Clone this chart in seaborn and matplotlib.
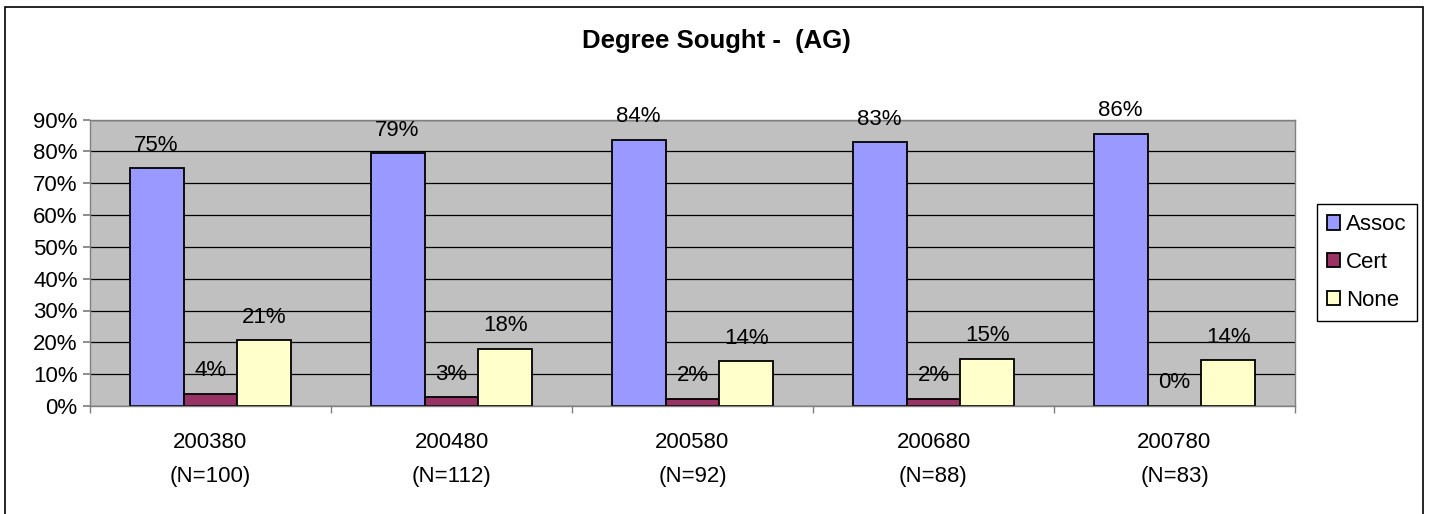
import matplotlib
matplotlib.use("Agg")
import matplotlib.pyplot as plt
import numpy as np
import pandas as pd
import seaborn as sns
from matplotlib.patches import Rectangle
from matplotlib.ticker import PercentFormatter

sns.set_theme(style="ticks")
plt.rcParams.update({
    "font.size": 16, "axes.facecolor": "#C0C0C0", "figure.facecolor": "white",
    "axes.edgecolor": "#808080", "axes.linewidth": 1.0,
    "text.color": "black", "xtick.labelcolor": "black", "ytick.labelcolor": "black",
})
plt.rcParams["font.family"] = ["Liberation Sans", "DejaVu Sans"]

# podaci procitani s grafa (postoci)
SEMESTRI = ["200380", "200480", "200580", "200680", "200780"]
BROJ_N = [100, 112, 92, 88, 83]
STUPNJEVI = ["Assoc", "Cert", "None"]
ASSOC = [74.7, 79.4, 83.7, 82.9, 85.6]
CERT = [3.8, 2.7, 2.2, 2.3, 0.0]
NONE = [20.7, 18.0, 14.1, 14.8, 14.4]
BOJE = {"Assoc": "#9999FF", "Cert": "#993366", "None": "#FFFFCC"}


def pripremi():
    oznake = [f"{s}\n(N={n})" for s, n in zip(SEMESTRI, BROJ_N)]
    redovi = []
    for stupanj, vrijednosti in zip(STUPNJEVI, [ASSOC, CERT, NONE]):
        for o, v in zip(oznake, vrijednosti):
            redovi.append({"semestar": o, "stupanj": stupanj, "postotak": v})
    return pd.DataFrame(redovi), oznake


def main():
    df, oznake = pripremi()
    W, H = 1429, 514
    fig = plt.figure(figsize=(W / 100, H / 100), dpi=100)
    ax = fig.add_axes([90 / W, 1 - 406 / H, (1295 - 90) / W, (406 - 119.5) / H])

    sns.barplot(data=df, x="semestar", y="postotak", hue="stupanj", order=oznake,
                hue_order=STUPNJEVI, palette=BOJE, width=0.672, errorbar=None,
                edgecolor="black", linewidth=1.3, saturation=1, ax=ax)

    for cont, vrijednosti in zip(ax.containers, [ASSOC, CERT, NONE]):
        ax.bar_label(cont, labels=[f"{v:.0f}%" for v in vrijednosti], padding=9, fontsize=16)

    ax.set_ylim(0, 90)
    ax.set_yticks(range(0, 91, 10))
    ax.yaxis.set_major_formatter(PercentFormatter(xmax=100, decimals=0))
    ax.set_axisbelow(True)
    ax.yaxis.grid(True, color="black", linewidth=0.9)
    ax.set(xlabel="", ylabel="")
    ax.set_xticks(np.arange(-0.5, len(oznake), 1), minor=True)
    ax.tick_params(axis="x", which="major", length=0, pad=19, labelsize=16)
    for t in ax.get_xticklabels():
        t.set_linespacing(1.8)
    ax.tick_params(axis="x", which="minor", length=5, color="#808080", direction="out")
    ax.tick_params(axis="y", length=5, color="#808080", pad=4, labelsize=16, direction="out")
    for s in ax.spines.values():
        s.set_visible(True)
        s.set_color("#808080")

    ax.legend(loc="center left", bbox_to_anchor=(1317 / W, 1 - 262.5 / H),
              bbox_transform=fig.transFigure, borderaxespad=0, frameon=True,
              fancybox=False, edgecolor="black", facecolor="white", framealpha=1,
              fontsize=16, handlelength=0.6, handleheight=0.6, handletextpad=0.25,
              labelspacing=0.75, borderpad=0.45, title=None)
    ax.get_legend().get_frame().set_linewidth(1.0)

    fig.text(716 / W, 1 - 41 / H, "Degree Sought -  (AG)", ha="center", va="center",
             fontsize=18.5, fontweight="bold")
    fig.patches.append(Rectangle((5 / W, -0.05), (1423 - 5) / W, 1.05 - 7 / H,
                                 transform=fig.transFigure, fill=False,
                                 edgecolor="black", linewidth=1.2))

    fig.savefig("out.png", dpi=100)


if __name__ == "__main__":
    main()
